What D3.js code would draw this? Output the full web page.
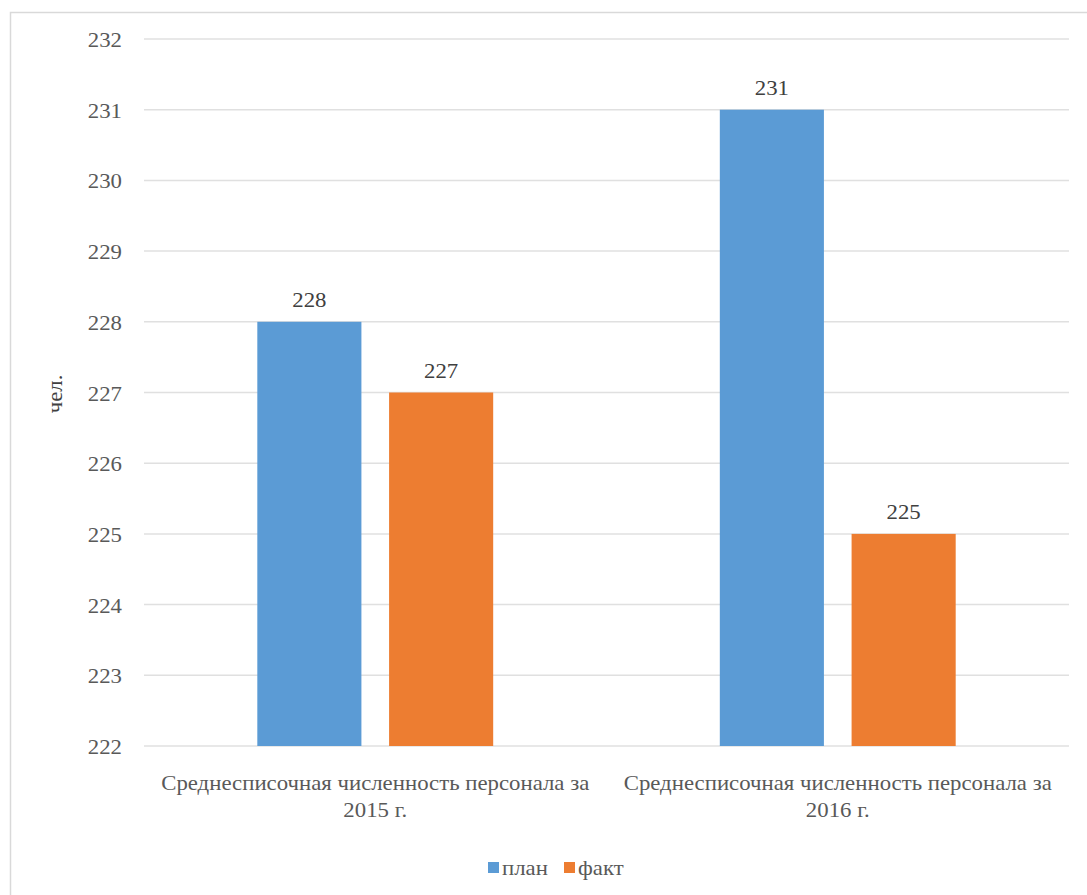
<!DOCTYPE html>
<html><head><meta charset="utf-8">
<script src="https://cdn.jsdelivr.net/npm/d3@7"></script>
<style>body{margin:0;background:#fff;} svg{display:block;}</style>
</head><body>
<svg id="c" width="1087" height="895"></svg>
<script>
const categories = ["Среднесписочная численность персонала за 2015 г.", "Среднесписочная численность персонала за 2016 г."];
const categoryLines = [["Среднесписочная численность персонала за", "2015 г."], ["Среднесписочная численность персонала за", "2016 г."]];
const seriesNames = ["план", "факт"];
const plan = [228, 231];
const fact = [227, 225];
const yTicks = [222, 223, 224, 225, 226, 227, 228, 229, 230, 231, 232];
const yTitle = "чел.";
const colors = ["#5b9bd5", "#ed7d31"];

const svg = d3.select("#c");
const SX = 1.14; // horizontal stretch of the reference text
const m = {l: 144, r: 1069, t: 39, b: 746};

function txt(parent, x, y, s, opts) {
  const o = Object.assign({size: 20, fill: "#595959", anchor: "start", rot: 0}, opts || {});
  return parent.append("text")
    .attr("transform", `translate(${x},${y}) rotate(${o.rot}) scale(${SX},1)`)
    .attr("text-anchor", o.anchor).attr("font-size", o.size).attr("fill", o.fill)
    .style("font-family", '"Liberation Serif", "Tinos", serif')
    .text(s);
}

// outer border
svg.append("rect").attr("x", 10.5).attr("y", 12.5).attr("width", 1100).attr("height", 900)
  .attr("fill", "#fff").attr("stroke", "#d9d9d9").attr("stroke-width", 1.5);

const y = d3.scaleLinear().domain([222, 232]).range([m.b, m.t]);
const x0 = d3.scaleBand().domain(categories).range([m.l, m.r]).paddingInner(0.49).paddingOuter(0.245);
const x1 = d3.scaleBand().domain(seriesNames).range([0, x0.bandwidth()]).paddingInner(0.21);

// gridlines
svg.append("g").selectAll("line").data(yTicks).join("line")
  .attr("x1", m.l).attr("x2", m.r).attr("y1", d => y(d)).attr("y2", d => y(d))
  .attr("stroke", "#e0e0e0").attr("stroke-width", 1.5);

// y tick labels
const gy = svg.append("g");
yTicks.forEach(v => txt(gy, 122, y(v) + 8, v, {anchor: "end", size: 20}));

// y title
txt(svg, 62, 394, yTitle, {anchor: "middle", size: 20, fill: "#404040", rot: -90});

// bars
const data = categories.map((c, i) => ({c, vals: [plan[i], fact[i]]}));
const gb = svg.append("g");
data.forEach(d => {
  d.vals.forEach((v, j) => {
    const s = seriesNames[j];
    gb.append("rect")
      .attr("x", x0(d.c) + x1(s)).attr("width", x1.bandwidth())
      .attr("y", y(v)).attr("height", y(222) - y(v))
      .attr("fill", colors[j]);
    txt(gb, x0(d.c) + x1(s) + x1.bandwidth() / 2, y(v) - 14.5, v, {anchor: "middle", size: 20, fill: "#404040"});
  });
});

// category labels
const gc = svg.append("g");
categories.forEach((c, i) => {
  const cx = x0(c) + x0.bandwidth() / 2;
  categoryLines[i].forEach((line, k) => txt(gc, cx, 790 + k * 27, line, {anchor: "middle", size: 20}));
});

// legend
const lg = svg.append("g");
const legX = [488, 564];
seriesNames.forEach((s, i) => {
  lg.append("rect").attr("x", legX[i]).attr("y", 862).attr("width", 11).attr("height", 11).attr("fill", colors[i]);
  txt(lg, legX[i] + 14, 875, s, {size: 20});
});
</script>
</body></html>
